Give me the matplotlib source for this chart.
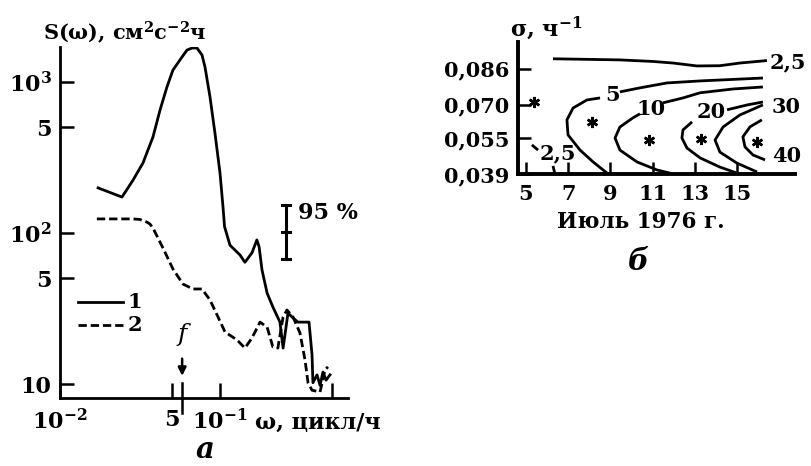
import matplotlib
matplotlib.use('Agg')
import matplotlib.pyplot as plt
import matplotlib.transforms as mtransforms
from matplotlib.lines import Line2D

plt.rcParams['font.family'] = 'DejaVu Serif'
plt.rcParams['font.weight'] = 'bold'
plt.rcParams['mathtext.fontset'] = 'custom'
plt.rcParams['mathtext.rm'] = 'DejaVu Serif:bold'
plt.rcParams['mathtext.it'] = 'DejaVu Serif:italic:bold'
plt.rcParams['mathtext.bf'] = 'DejaVu Serif:bold'

# ---- panel a: spectra S(omega) ----
omega1 = [0.0173, 0.0244, 0.0286, 0.0330, 0.0381, 0.0422, 0.0466, 0.0508, 0.0579,
          0.0622, 0.0668, 0.0718, 0.0772, 0.0806, 0.0866, 0.0930, 0.1000, 0.1044,
          0.1068, 0.1155, 0.1334, 0.1432, 0.1585, 0.170, 0.1756, 0.183, 0.197,
          0.214, 0.237, 0.248, 0.266, 0.286, 0.307, 0.360, 0.376, 0.381, 0.404,
          0.422, 0.440, 0.460, 0.487]
s1 = [199, 173, 224, 291, 432, 653, 927, 1200, 1465,
      1628, 1680, 1680, 1510, 1257, 796, 459, 250, 149,
      110, 83, 71.5, 64, 74, 90, 81, 57, 40,
      32.4, 25.7, 17.3, 29.5, 27.4, 25.7, 25.7, 15.6, 10.2, 11.5,
      9.8, 12.0, 10.6, 11.5]

omega2 = [0.0170, 0.0286, 0.0316, 0.0350, 0.0365, 0.0381, 0.0440, 0.0508, 0.0587,
          0.0678, 0.0772, 0.0866, 0.0972, 0.1075, 0.1277, 0.1432, 0.1585, 0.1778,
          0.197, 0.214, 0.230, 0.248, 0.262, 0.286, 0.316, 0.340, 0.355, 0.376,
          0.422, 0.453, 0.473]
s2 = [124, 124, 123, 118, 114.7, 108, 79.6, 57.8, 45.9,
      42.6, 42.6, 36.0, 27.8, 22.1, 19.6, 17.3, 20.2, 25.7,
      23.8, 17.6, 17.3, 27.8, 30.9, 27.8, 21.8, 14.4, 10.2, 9.1,
      8.85, 12.4, 13.0]

f_inertial = 0.058

xticks_a = [0.01, 0.05, 0.1, 0.5]
xlabels_a = ['$10^{-2}$', '5', '$10^{-1}$', '']
yticks_a = [10, 50, 100, 500, 1000]
ylabels_a = ['10', '5', '$10^{2}$', '5', '$10^{3}$']

# ---- panel b: isolines, day of July 1976 vs sigma ----
c25_day = [6.28, 9.45, 11.02, 11.97, 13.10, 14.19, 15.14, 16.42]
c25_sig = [0.0905, 0.0900, 0.0893, 0.0886, 0.0873, 0.0874, 0.0886, 0.0897]
c25a_day = [5.28, 5.57]
c25a_sig = [0.0520, 0.0497]
c25b_day = [6.28, 6.37]
c25b_sig = [0.0426, 0.0390]

c5_day = [8.84, 8.18, 7.56, 6.99, 6.94, 7.23, 7.89, 8.51]
c5_sig = [0.0394, 0.0444, 0.0497, 0.0565, 0.0632, 0.0685, 0.0721, 0.0730]
c5r_day = [9.45, 10.40, 11.68, 13.25, 16.23]
c5r_sig = [0.0757, 0.0775, 0.0797, 0.0806, 0.0819]

c10_day = [11.82, 11.21, 10.26, 9.45, 9.22, 9.45, 10.07, 10.40]
c10_sig = [0.0394, 0.0408, 0.0444, 0.0497, 0.0551, 0.0600, 0.0641, 0.0659]
c10r_day = [11.49, 12.44, 13.25, 14.81, 16.23]
c10r_sig = [0.0708, 0.0730, 0.0753, 0.0770, 0.0779]

c20_day = [15.00, 14.19, 13.25, 12.63, 12.39, 12.44, 12.87]
c20_sig = [0.0394, 0.0421, 0.0462, 0.0506, 0.0551, 0.0587, 0.0623]
c20r_day = [14.53, 15.50, 16.23]
c20r_sig = [0.0677, 0.0699, 0.0712]

c30_day = [16.23, 15.14, 14.34, 13.96, 14.19, 14.99, 15.95]
c30_sig = [0.0699, 0.0654, 0.0600, 0.0542, 0.0488, 0.0439, 0.0399]

c40_day = [16.18, 15.62, 15.28, 15.38, 15.76, 16.33]
c40_sig = [0.0632, 0.0601, 0.0556, 0.0511, 0.0475, 0.0453]

star_day = [5.38, 8.13, 10.83, 13.29, 15.95]
star_sig = [0.0712, 0.0623, 0.0542, 0.0547, 0.0533]

xticks_b = [5, 7, 9, 11, 13, 15]
yticks_b = [0.039, 0.055, 0.070, 0.086]
ylabels_b = ['0,039', '0,055', '0,070', '0,086']

W, H = 811, 466
fig = plt.figure(figsize=(W / 100, H / 100), dpi=100)


def fx(x):
    return x / W


def fy(y):
    return 1 - y / H


# ---------------- panel a ----------------
ax = fig.add_axes([fx(60), fy(398), (348 - 60) / W, (398 - 47) / H])
ax.set_xscale('log')
ax.set_yscale('log')
ax.plot(omega1, s1, color='k', lw=2.0, solid_joinstyle='round')
ax.plot(omega2, s2, color='k', lw=2.0, dashes=(3, 1.4))
ax.set_xlim(0.01, 0.631)
ax.set_ylim(8.08, 1706)
for side in ['top', 'right']:
    ax.spines[side].set_visible(False)
for side in ['left', 'bottom']:
    ax.spines[side].set_linewidth(2.0)
ax.set_xticks(xticks_a)
ax.set_xticklabels(xlabels_a)
ax.set_yticks(yticks_a)
ax.set_yticklabels(ylabels_a)
ax.minorticks_off()
ax.tick_params(axis='both', direction='in', width=1.8, labelsize=16)
ax.tick_params(axis='x', length=11, pad=8)
ax.tick_params(axis='y', length=10, pad=6)

# inertial frequency mark
trans = mtransforms.blended_transform_factory(ax.transData, ax.transAxes)
ax.plot([f_inertial, f_inertial], [0.043, -0.043], color='k', lw=1.8,
        transform=trans, clip_on=False)
ax.annotate('', xy=(f_inertial, 0.055), xycoords=trans,
            xytext=(f_inertial, 0.12), textcoords=trans,
            arrowprops=dict(arrowstyle='-|>', color='k', lw=1.8, mutation_scale=12))
ax.text(f_inertial, 0.18, 'f', transform=trans, ha='center', va='center',
        fontsize=18, style='italic', fontweight='normal')

# legend
ax.add_line(Line2D([0.0625, 0.219], [0.2735, 0.2735], color='k', lw=2.0,
                   transform=ax.transAxes))
ax.add_line(Line2D([0.0625, 0.219], [0.208, 0.208], color='k', lw=2.0,
                   dashes=(3, 1.4), transform=ax.transAxes))
ax.text(0.26, 0.2735, '1', transform=ax.transAxes, ha='center', va='center', fontsize=15)
ax.text(0.26, 0.208, '2', transform=ax.transAxes, ha='center', va='center', fontsize=15)

# 95 % confidence bar
fig.add_artist(Line2D([fx(286), fx(286)], [fy(205), fy(259)], color='k', lw=2.2))
for yy in [205, 232, 259]:
    fig.add_artist(Line2D([fx(282), fx(290)], [fy(yy), fy(yy)], color='k', lw=2.2))
fig.text(fx(298), fy(213), '95 %', ha='left', va='center', fontsize=16)

fig.text(fx(43), fy(33), 'S(ω), см$^{2}$с$^{-2}$ч', ha='left', va='center', fontsize=15)
fig.text(fx(255), fy(423), 'ω, цикл/ч', ha='left', va='center', fontsize=16)
fig.text(fx(205), fy(450), 'а', ha='center', va='center', fontsize=21, style='italic')

# ---------------- panel b ----------------
ax2 = fig.add_axes([fx(518), fy(174), (795 - 518) / W, (174 - 42) / H])
lines_b = [(c25_day, c25_sig), (c25a_day, c25a_sig), (c25b_day, c25b_sig),
           (c5_day, c5_sig), (c5r_day, c5r_sig), (c10_day, c10_sig),
           (c10r_day, c10r_sig), (c20_day, c20_sig), (c20r_day, c20r_sig),
           (c30_day, c30_sig), (c40_day, c40_sig)]
for xd, yd in lines_b:
    ax2.plot(xd, yd, color='k', lw=2.0, solid_capstyle='butt', solid_joinstyle='round')
ax2.plot(star_day, star_sig, ls='none', marker=(6, 2, 0), ms=8, mew=1.8, color='k')
ax2.set_xlim(4.62, 17.75)
ax2.set_ylim(0.039, 0.098)
for side in ['top', 'right']:
    ax2.spines[side].set_visible(False)
for side in ['left', 'bottom']:
    ax2.spines[side].set_linewidth(2.8)
ax2.set_xticks(xticks_b)
ax2.set_yticks(yticks_b)
ax2.set_yticklabels(ylabels_b)
ax2.tick_params(axis='both', direction='in', width=1.8, length=9, labelsize=15)
ax2.tick_params(axis='x', pad=7)
ax2.tick_params(axis='y', pad=6)

# isoline labels
for txt, x, y in [('2,5', 770, 62), ('30', 772, 107), ('40', 772, 156),
                  ('20', 697, 112), ('10', 636, 109), ('5', 605, 95), ('2,5', 540, 153)]:
    fig.text(fx(x), fy(y), txt, ha='left', va='center', fontsize=15)

fig.text(fx(510), fy(28), 'σ, ч$^{-1}$', ha='left', va='center', fontsize=16)
fig.text(fx(641), fy(222), 'Июль 1976 г.', ha='center', va='center', fontsize=15.5)
fig.text(fx(638), fy(261), 'б', ha='center', va='center', fontsize=21, style='italic')

fig.savefig('out.png', dpi=100)
